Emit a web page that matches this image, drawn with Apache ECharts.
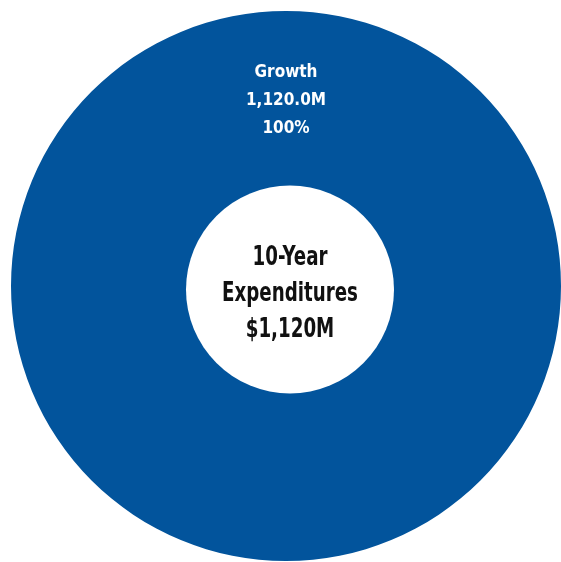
<!DOCTYPE html>
<html>
<head>
<meta charset="utf-8">
<script src="https://cdn.jsdelivr.net/npm/echarts@6/dist/echarts.min.js"></script>
<style>
  html, body { margin: 0; padding: 0; background: #ffffff; }
  #chart { width: 561px; height: 562px; }
</style>
</head>
<body>
<div id="chart"></div>
<script>
// Expenditure categories and their 10-year totals (millions)
const categories = ['Growth'];
const amounts = [1120.0];
const centerLines = ['10-Year', 'Expenditures', '$1,120M'];

const total = amounts.reduce((a, b) => a + b, 0);
const FONT = '"DejaVu Sans Condensed", "DejaVu Sans", sans-serif';

const chart = echarts.init(document.getElementById('chart'), null, { renderer: 'canvas' });

chart.setOption({
  animation: false,
  backgroundColor: '#ffffff',
  color: ['#02549c'],
  series: [{
    type: 'pie',
    center: [286, 286],
    radius: [90, 275],
    startAngle: 270,
    clockwise: true,
    silent: true,
    itemStyle: { borderWidth: 0 },
    label: {
      show: true,
      position: 'inside',
      color: '#ffffff',
      fontFamily: FONT,
      fontWeight: 'bold',
      fontSize: 17,
      lineHeight: 28,
      formatter: p => p.name + '\n' +
        p.value.toLocaleString('en-US', { minimumFractionDigits: 1, maximumFractionDigits: 1 }) + 'M\n' +
        Math.round(p.value / total * 100) + '%'
    },
    labelLine: { show: false },
    data: categories.map((c, i) => ({ name: c, value: amounts[i] }))
  }],
  graphic: [
    {
      type: 'circle',
      shape: { cx: 290, cy: 289.5, r: 104 },
      style: { fill: '#ffffff' },
      z: 10
    },
    {
      type: 'text',
      x: 290,
      y: 294,
      scaleX: 0.78,
      z: 11,
      style: {
        text: centerLines.join('\n'),
        fill: '#111111',
        font: 'bold 26px ' + FONT,
        lineHeight: 36,
        align: 'center',
        verticalAlign: 'middle'
      }
    }
  ]
});
</script>
</body>
</html>
